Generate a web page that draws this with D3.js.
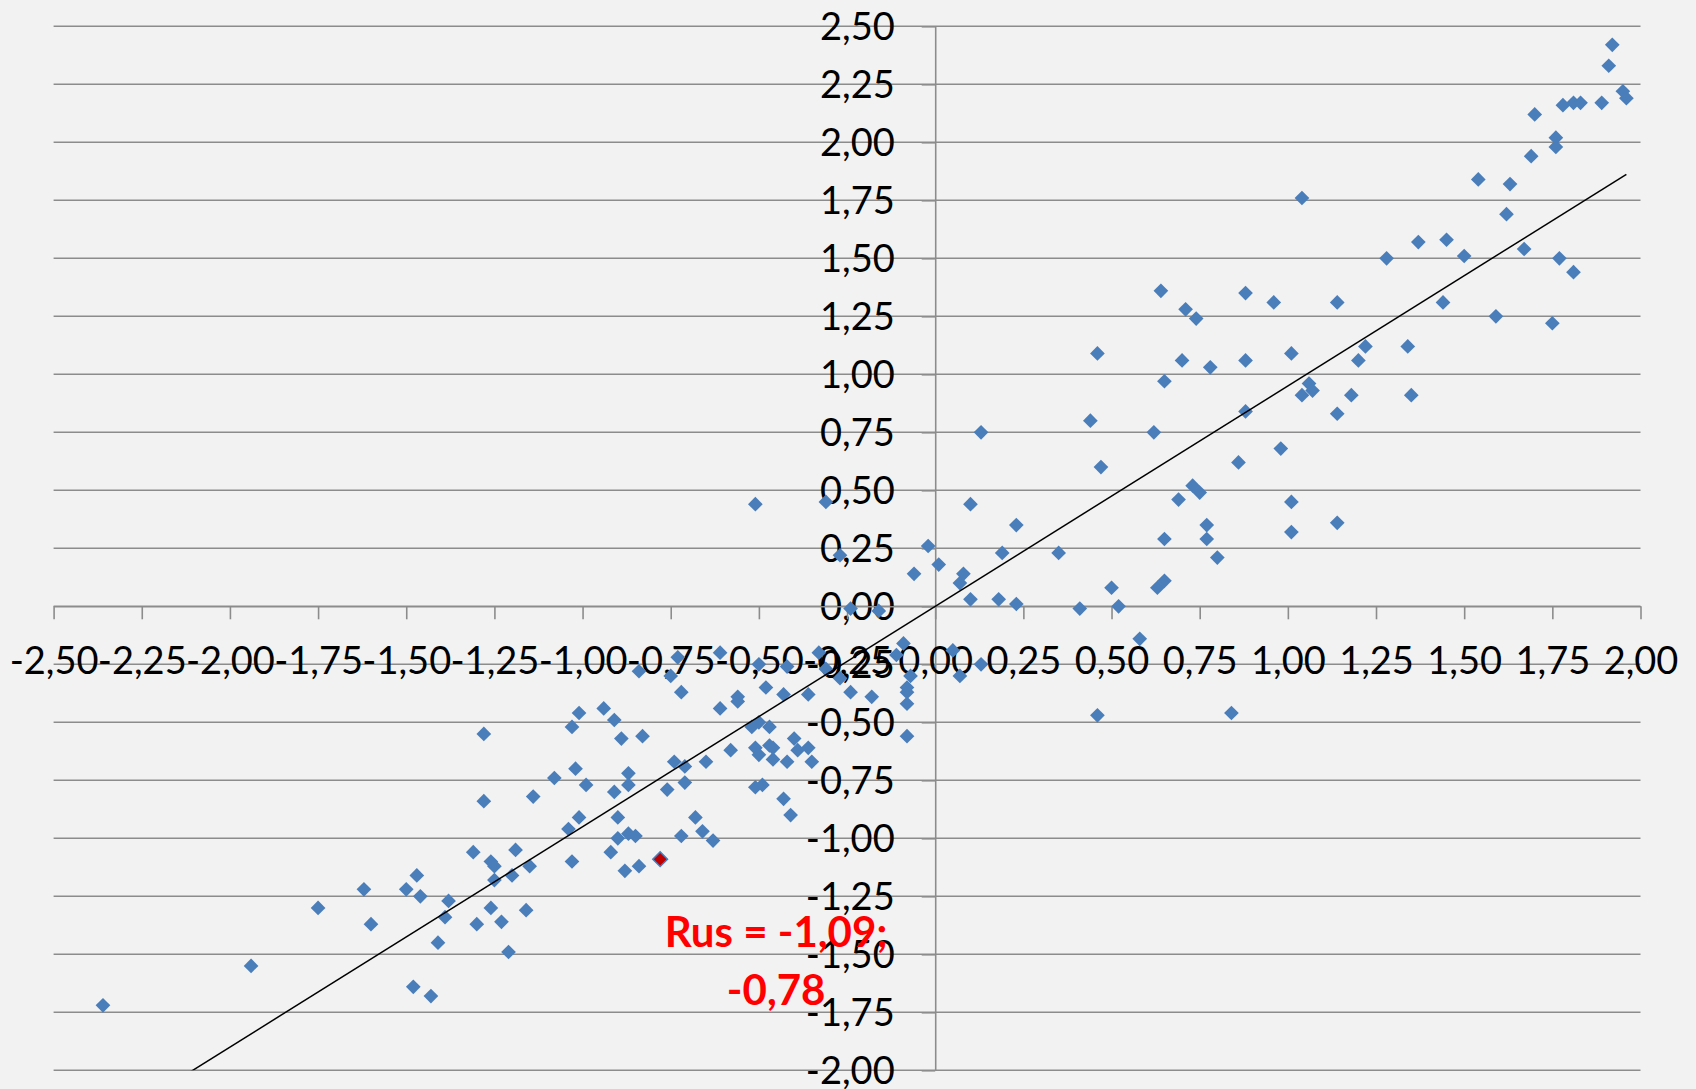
<html>
<head>
<meta charset="utf-8" />
<script src="https://d3js.org/d3.v7.min.js"></script>
<style>
  body { margin: 0; background: #f2f2f2; }
  svg text { font-family: Lato, "Open Sans", sans-serif; }
</style>
</head>
<body>
<svg id="chart" width="1696" height="1089"></svg>
<script>
// tick values of both axes
const xTicks = [-2.5, -2.25, -2, -1.75, -1.5, -1.25, -1, -0.75, -0.5, -0.25, 0, 0.25, 0.5, 0.75, 1, 1.25, 1.5, 1.75, 2]
const yTicks = [-2, -1.75, -1.5, -1.25, -1, -0.75, -0.5, -0.25, 0, 0.25, 0.5, 0.75, 1, 1.25, 1.5, 1.75, 2, 2.25, 2.5]

// countries, [x, y]
const points = [
  [1.92, 2.42], [1.91, 2.33], [1.95, 2.22], [1.96, 2.19], [1.89, 2.17], [1.78, 2.16], [1.81, 2.17], [1.83, 2.17],
  [1.70, 2.12], [1.76, 2.02], [1.76, 1.98], [1.69, 1.94], [1.54, 1.84], [1.63, 1.82], [1.62, 1.69], [1.04, 1.76],
  [1.37, 1.57], [1.45, 1.58], [1.50, 1.51], [1.28, 1.50], [1.67, 1.54], [1.77, 1.50], [1.81, 1.44], [1.44, 1.31],
  [1.59, 1.25], [1.75, 1.22], [1.14, 1.31], [1.34, 1.12], [1.22, 1.12], [1.20, 1.06], [1.01, 1.09], [0.96, 1.31],
  [0.88, 1.35], [0.88, 1.06], [0.78, 1.03], [0.70, 1.06], [0.65, 0.97], [0.64, 1.36], [0.71, 1.28], [0.74, 1.24],
  [0.46, 1.09], [1.06, 0.96], [1.07, 0.93], [1.04, 0.91], [1.18, 0.91], [1.35, 0.91],
  [1.14, 0.83], [0.88, 0.84], [0.62, 0.75], [0.47, 0.60], [0.98, 0.68], [0.86, 0.62], [0.73, 0.52], [0.75, 0.49],
  [0.69, 0.46], [1.01, 0.45], [1.14, 0.36], [0.77, 0.35], [0.65, 0.29], [0.77, 0.29], [1.01, 0.32], [0.80, 0.21],
  [0.65, 0.11], [0.63, 0.08], [0.50, 0.08], [0.52, 0.00],
  [0.13, 0.75], [0.44, 0.80], [-0.51, 0.44], [-0.31, 0.45], [0.10, 0.44], [0.23, 0.35], [-0.02, 0.26], [-0.27, 0.22],
  [0.19, 0.23], [0.35, 0.23], [0.01, 0.18], [-0.06, 0.14], [0.08, 0.14], [0.07, 0.10], [0.10, 0.03], [0.18, 0.03],
  [0.23, 0.01], [0.41, -0.01], [-0.24, -0.01], [-0.16, -0.02],
  [0.58, -0.14], [0.46, -0.47], [0.84, -0.46], [-0.09, -0.16], [-0.11, -0.21], [0.05, -0.19], [0.07, -0.30], [0.13, -0.25],
  [-0.07, -0.30], [-0.08, -0.35], [-0.08, -0.37], [-0.08, -0.42], [-0.08, -0.56], [-0.18, -0.39], [-0.24, -0.37], [-0.27, -0.31],
  [-0.33, -0.20], [-0.31, -0.27], [-0.36, -0.38], [-0.42, -0.26], [-0.43, -0.38], [-0.48, -0.35], [-0.50, -0.25], [-0.56, -0.39],
  [-0.56, -0.41], [-0.61, -0.44], [-0.61, -0.20], [-0.73, -0.22], [-0.75, -0.30], [-0.72, -0.37], [-0.52, -0.52], [-0.50, -0.50],
  [-0.47, -0.52], [-0.51, -0.61], [-0.50, -0.64], [-0.47, -0.60], [-0.46, -0.66], [-0.46, -0.61], [-0.40, -0.57], [-0.39, -0.62],
  [-0.36, -0.61], [-0.35, -0.67], [-0.42, -0.67], [-0.58, -0.62], [-0.65, -0.67], [-0.74, -0.67], [-0.71, -0.69], [-0.71, -0.76],
  [-0.76, -0.79], [-0.51, -0.78], [-0.49, -0.77], [-0.43, -0.83], [-0.41, -0.90], [-0.68, -0.91], [-0.66, -0.97], [-0.72, -0.99],
  [-0.63, -1.01],
  [-0.84, -0.28], [-0.94, -0.44], [-1.01, -0.46], [-1.03, -0.52], [-0.91, -0.49], [-0.89, -0.57], [-0.83, -0.56], [-1.28, -0.55],
  [-1.02, -0.70], [-1.08, -0.74], [-0.99, -0.77], [-0.87, -0.72], [-0.87, -0.77], [-0.91, -0.80], [-1.14, -0.82], [-1.28, -0.84],
  [-1.01, -0.91], [-1.04, -0.96], [-0.90, -0.91], [-0.90, -1.00], [-0.87, -0.98], [-0.85, -0.99], [-0.92, -1.06], [-1.03, -1.10],
  [-0.88, -1.14], [-0.84, -1.12], [-1.19, -1.05], [-1.31, -1.06], [-1.26, -1.10], [-1.25, -1.12], [-1.15, -1.12], [-1.20, -1.16],
  [-1.47, -1.16],
  [-2.36, -1.72], [-1.94, -1.55], [-1.75, -1.30], [-1.62, -1.22], [-1.60, -1.37], [-1.50, -1.22], [-1.46, -1.25], [-1.38, -1.27],
  [-1.39, -1.34], [-1.41, -1.45], [-1.48, -1.64], [-1.43, -1.68], [-1.25, -1.18], [-1.26, -1.30], [-1.30, -1.37], [-1.23, -1.36],
  [-1.16, -1.31], [-1.21, -1.49]
]

// highlighted country
const highlight = { name: "Rus", x: -0.78, y: -1.09 }

// linear trend: y = slope * x + intercept
const trendSlope = 0.95
const trendIntercept = 0.0

const width = 1696
const height = 1089
const gridColor = "#8c8c8c"

const x = d3.scaleLinear().domain([-2.5, 2]).range([53.6, 1640.5])
const y = d3.scaleLinear().domain([-2, 2.5]).range([1070.3, 26.3])

const loc = d3.formatLocale({ decimal: ",", thousands: " ", grouping: [3], currency: ["", ""], minus: "-" })
const fmt = loc.format(".2f")

let svg = d3.select("#chart")
svg.append("rect").attr("width", width).attr("height", height).attr("fill", "#f2f2f2")

svg.append("defs").append("clipPath").attr("id", "plot")
  .append("rect")
  .attr("x", x(-2.5)).attr("y", y(2.5))
  .attr("width", x(2) - x(-2.5)).attr("height", y(-2) - y(2.5))

// horizontal gridlines
svg.append("g").selectAll("line").data(yTicks).join("line")
  .attr("x1", x(-2.5)).attr("x2", x(2))
  .attr("y1", d => y(d)).attr("y2", d => y(d))
  .attr("stroke", gridColor).attr("stroke-width", 1.6)

// axes crossing at zero
let yAxis = svg.append("g")
  .attr("transform", `translate(${x(0)},0)`)
  .call(d3.axisLeft(y).tickValues(yTicks).tickFormat(fmt).tickSize(13.5).tickSizeOuter(0).tickPadding(27))
let xAxis = svg.append("g")
  .attr("transform", `translate(0,${y(0)})`)
  .call(d3.axisBottom(x).tickValues(xTicks).tickFormat(fmt).tickSize(13).tickSizeOuter(0).tickPadding(28))

for (let ax of [yAxis, xAxis]) {
  ax.attr("font-family", null).attr("font-size", 38)
  ax.select(".domain").attr("stroke", gridColor).attr("stroke-width", 1.6)
  ax.selectAll(".tick line").attr("stroke", gridColor).attr("stroke-width", 1.6)
  ax.selectAll(".tick text").attr("fill", "#000")
}
yAxis.selectAll(".tick text").attr("dy", "0.35em")

// points
const diamond = d3.symbol(d3.symbolSquare, 108)
svg.append("g").selectAll("path").data(points).join("path")
  .attr("d", diamond)
  .attr("transform", d => `translate(${x(d[0])},${y(d[1])}) rotate(45)`)
  .attr("fill", "#4a7ebb")

// trend line over the data range
const xr = d3.extent(points.concat([[highlight.x, highlight.y]]), d => d[0])
svg.append("path")
  .datum(xr.map(v => [v, trendSlope * v + trendIntercept]))
  .attr("clip-path", "url(#plot)")
  .attr("d", d3.line().x(d => x(d[0])).y(d => y(d[1])))
  .attr("fill", "none").attr("stroke", "#000").attr("stroke-width", 1.5)

// highlighted point and its label
svg.append("path")
  .attr("d", diamond)
  .attr("transform", `translate(${x(highlight.x)},${y(highlight.y)}) rotate(45)`)
  .attr("fill", "#c00000").attr("stroke", "#4a7ebb").attr("stroke-width", 1.5)

let lab = svg.append("text")
  .attr("x", x(highlight.x) + 116).attr("y", y(highlight.y) + 88)
  .attr("text-anchor", "middle")
  .attr("font-size", 42).attr("font-weight", "bold").attr("fill", "#ff0000")
lab.append("tspan").attr("x", x(highlight.x) + 116).text(`${highlight.name} = ${fmt(highlight.y)};`)
lab.append("tspan").attr("x", x(highlight.x) + 116).attr("dy", 58).text(fmt(highlight.x))
</script>
</body>
</html>
